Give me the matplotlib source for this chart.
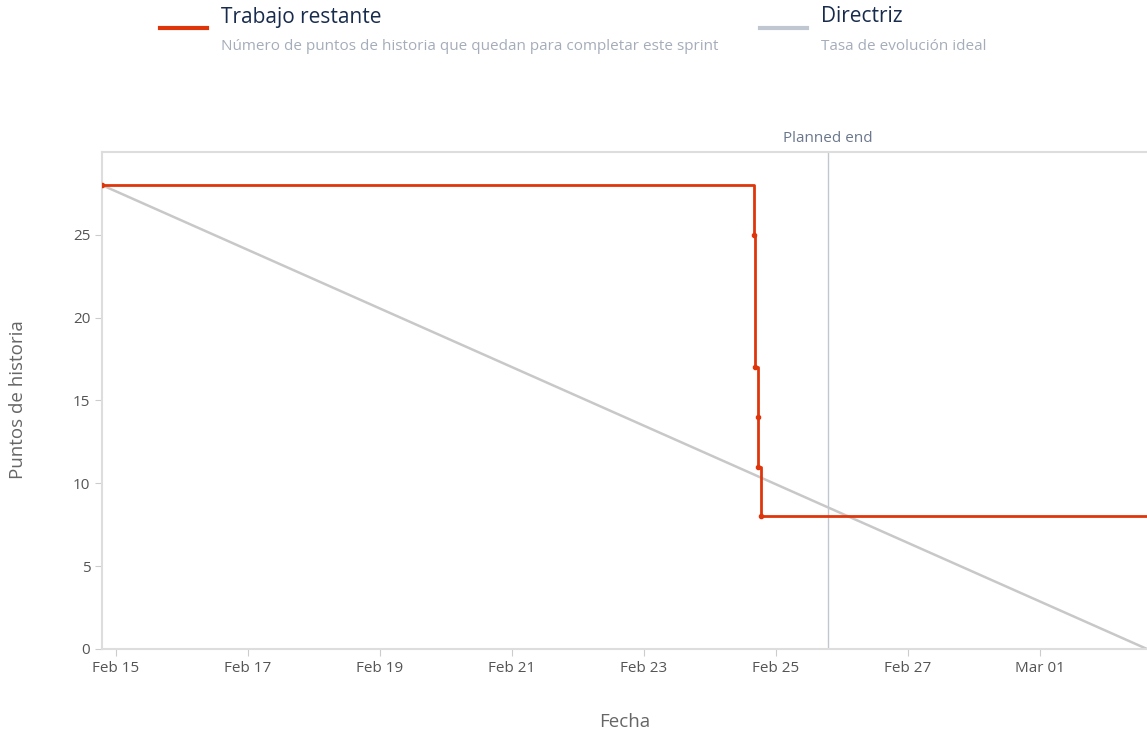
import matplotlib.pyplot as plt
import matplotlib.dates as mdates
import pandas as pd

plt.rcParams['font.family'] = ['Open Sans', 'DejaVu Sans']

# Sprint data
sprint_start = pd.Timestamp('2023-02-14 19:00')
planned_end = pd.Timestamp('2023-02-25 19:00')
axis_end = pd.Timestamp('2023-03-02 15:00')

remaining_times = pd.to_datetime([
    '2023-02-14 19:00', '2023-02-24 16:10', '2023-02-24 16:32',
    '2023-02-24 17:27', '2023-02-24 17:38', '2023-02-24 18:43',
])
remaining_points = [28, 25, 17, 14, 11, 8]

guide_times = [sprint_start, axis_end]
guide_points = [28, 0]

tick_dates = pd.date_range('2023-02-15', '2023-03-01', freq='2D')

red = '#de350b'
guide_col = '#c8c8c8'
text_grey = '#6b778c'

fig = plt.figure(figsize=(11.47, 7.36), dpi=100)
ax = fig.add_axes([102 / 1147, 1 - 649 / 736, 1 - 102 / 1147, (649 - 152) / 736])

# ideal line
ax.plot(guide_times, guide_points, color=guide_col, lw=1.8, zorder=2)

# remaining work, extended to the axis end
times = list(remaining_times) + [axis_end]
points = remaining_points + [remaining_points[-1]]
ax.plot(times, points, drawstyle='steps-post', color=red, lw=2, zorder=3)
ax.plot(remaining_times, remaining_points, 'o', color=red, ms=3, zorder=4)

# planned end marker
ax.axvline(planned_end, color='#c1c7d0', lw=1, zorder=1)
ax.text(planned_end, 30.35, 'Planned end', ha='center', va='bottom',
        fontsize=11, color=text_grey)

ax.set_xlim(sprint_start, axis_end)
ax.set_ylim(0, 30)
ax.set_yticks([0, 5, 10, 15, 20, 25])
ax.set_xticks(tick_dates)
ax.xaxis.set_major_formatter(mdates.DateFormatter('%b %d'))

for side in ['top', 'left', 'bottom']:
    ax.spines[side].set_color('#dddddd')
    ax.spines[side].set_linewidth(1.5)
ax.spines['right'].set_visible(False)
ax.tick_params(colors='#cccccc', labelcolor='#555555', labelsize=11, length=5)

# axis titles
fig.text(625 / 1147, 1 - 722 / 736, 'Fecha', fontsize=13.5, color='#666666',
         ha='center', va='center')
fig.text(18 / 1147, 1 - 400 / 736, 'Puntos de historia', fontsize=13.5, color='#666666',
         ha='center', va='center', rotation=90)

# legend on top
fig.add_artist(plt.Line2D([160 / 1147, 207 / 1147], [1 - 28 / 736] * 2, color=red, lw=3))
fig.text(221 / 1147, 1 - 17 / 736, 'Trabajo restante', fontsize=15, color='#172b4d', va='center')
fig.text(221 / 1147, 1 - 46 / 736, 'Número de puntos de historia que quedan para completar este sprint',
         fontsize=11, color='#a5adba', va='center')
fig.add_artist(plt.Line2D([760 / 1147, 807 / 1147], [1 - 28 / 736] * 2, color='#c1c7d0', lw=3))
fig.text(821 / 1147, 1 - 17 / 736, 'Directriz', fontsize=15, color='#172b4d', va='center')
fig.text(821 / 1147, 1 - 46 / 736, 'Tasa de evolución ideal', fontsize=11, color='#a5adba', va='center')

fig.savefig('out.png', dpi=100)
